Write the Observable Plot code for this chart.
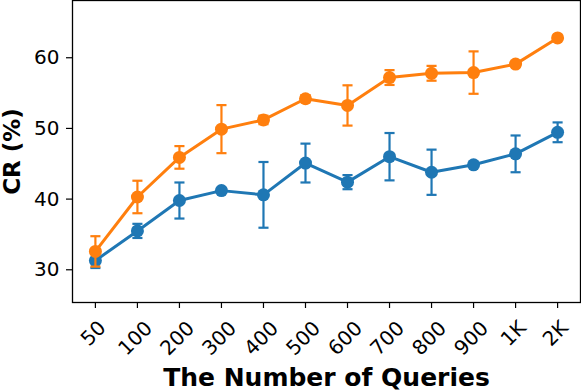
<!DOCTYPE html>
<html>
<head>
<meta charset="utf-8">
<script src="https://cdn.jsdelivr.net/npm/d3@7"></script>
<script src="https://cdn.jsdelivr.net/npm/@observablehq/plot@0.6"></script>
<style>
  html, body { margin: 0; padding: 0; background: #fff; }
  #chart svg { display: block; }
</style>
</head>
<body>
<div id="chart"></div>
<script>
const categories = ["50", "100", "200", "300", "400", "500", "600", "700", "800", "900", "1K", "2K"];
const orangeMean = [32.6, 40.3, 45.9, 49.9, 51.2, 54.2, 53.25, 57.2, 57.8, 57.9, 59.1, 62.8];
const orangeErr  = [2.15, 2.3, 1.6, 3.4, 0.6, 0.5, 2.85, 1.05, 1.05, 3.0, 0.4, 0.3];
const blueMean   = [31.3, 35.5, 39.8, 41.2, 40.6, 45.1, 42.4, 46.0, 43.8, 44.85, 46.4, 49.45];
const blueErr    = [1.05, 1.0, 2.55, 0.3, 4.65, 2.75, 1.0, 3.35, 3.2, 0.3, 2.6, 1.4];
const yTicks = [30, 40, 50, 60];
const xLabel = "The Number of Queries";
const yLabel = "CR (%)";

const BLUE = "#1f77b4", ORANGE = "#ff7f0e";

function rows(means, errs) {
  return categories.map((c, i) => ({i, c, v: means[i], lo: means[i] - errs[i], hi: means[i] + errs[i]}));
}
const blue = rows(blueMean, blueErr);
const orange = rows(orangeMean, orangeErr);

const capHalf = 0.12;
function seriesMarks(data, color) {
  return [
    Plot.ruleX(data, {x: "i", y1: "lo", y2: "hi", stroke: color, strokeWidth: 2.2}),
    Plot.link(data, {x1: d => d.i - capHalf, x2: d => d.i + capHalf, y1: "hi", y2: "hi", stroke: color, strokeWidth: 2.2}),
    Plot.link(data, {x1: d => d.i - capHalf, x2: d => d.i + capHalf, y1: "lo", y2: "lo", stroke: color, strokeWidth: 2.2}),
    Plot.line(data, {x: "i", y: "v", stroke: color, strokeWidth: 3}),
    Plot.dot(data, {x: "i", y: "v", r: 6.5, fill: color, stroke: "none"})
  ];
}

const short = categories.map((c, i) => ({i, c})).filter(d => d.c.length <= 2);
const long = categories.map((c, i) => ({i, c})).filter(d => d.c.length > 2);

const chart = Plot.plot({
  width: 581,
  height: 392,
  marginLeft: 72,
  marginRight: 1,
  marginTop: 0,
  marginBottom: 90,
  style: {fontFamily: "'DejaVu Sans', sans-serif", fontSize: "20px", color: "#000", background: "#fff"},
  x: {type: "linear", domain: [-0.545, categories.length - 1 + 0.545]},
  y: {domain: [25.37, 68.1]},
  marks: [
    Plot.axisX({ticks: d3.range(categories.length), tickFormat: () => "", tickSize: 6, stroke: "#000", strokeWidth: 1.2, label: null}),
    Plot.axisY({ticks: yTicks, tickSize: 6, tickPadding: 7, stroke: "#000", strokeWidth: 1.2, label: null, fontSize: 20}),
    ...seriesMarks(blue, BLUE),
    ...seriesMarks(orange, ORANGE),
    Plot.frame({stroke: "#000", strokeWidth: 1.3}),
    Plot.text(short, {x: "i", text: "c", frameAnchor: "bottom", dy: 31, dx: -2, rotate: -45, textAnchor: "middle", lineAnchor: "middle", fontSize: 20, fill: "#000"}),
    Plot.text(long, {x: "i", text: "c", frameAnchor: "bottom", dy: 36, dx: -2, rotate: -45, textAnchor: "middle", lineAnchor: "middle", fontSize: 20, fill: "#000"}),
    Plot.text([xLabel], {text: d => d, frameAnchor: "bottom", dy: 83, lineAnchor: "bottom", textAnchor: "middle", fontSize: 25, fontWeight: "bold", fill: "#000"}),
    Plot.text([yLabel], {text: d => d, frameAnchor: "left", dx: -60, rotate: -90, lineAnchor: "middle", textAnchor: "middle", fontSize: 23, fontWeight: "bold", fill: "#000"})
  ]
});
document.getElementById("chart").appendChild(chart);
</script>
</body>
</html>
